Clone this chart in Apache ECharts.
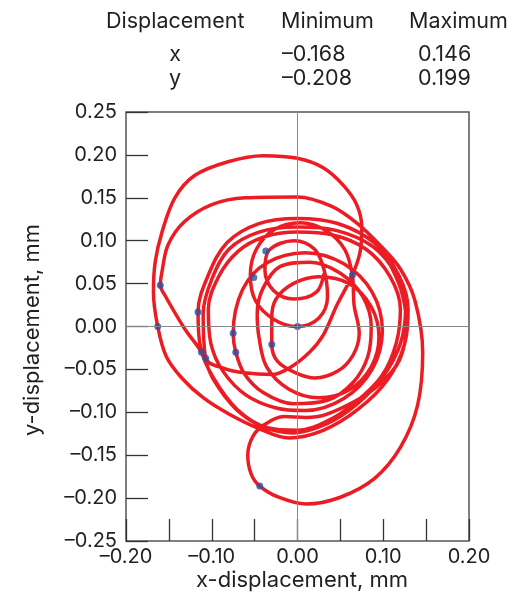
<!DOCTYPE html>
<html><head><meta charset="utf-8">
<script src="https://cdn.jsdelivr.net/npm/echarts@6/dist/echarts.min.js"></script>
<style>html,body{margin:0;padding:0;background:#fff}#c{width:515px;height:597px}</style>
</head><body><div id="c"></div>
<script>
// ---- data (mm) ----
const outerLoop = [[0.105,0.078],[0.121,0.042],[0.127,0.002],[0.119,-0.039],[0.096,-0.067],[0.069,-0.086],[0.032,-0.103],[0.010,-0.106],[-0.016,-0.105],[-0.038,-0.114],[-0.052,-0.128],[-0.058,-0.150],[-0.054,-0.172],[-0.044,-0.186],[-0.022,-0.199],[0.010,-0.207],[0.050,-0.199],[0.090,-0.177],[0.120,-0.141],[0.140,-0.092],[0.146,-0.030],[0.137,0.030],[0.120,0.067],[0.096,0.095],[0.070,0.120],[0.040,0.140],[0.000,0.151],[-0.061,0.150],[-0.100,0.142],[-0.132,0.122],[-0.151,0.095],[-0.158,0.064],[-0.160,0.048],[-0.155,0.037],[-0.132,-0.002],[-0.112,-0.030]];
const coreLoopB = [[-0.098,-0.062],[-0.072,-0.096],[-0.040,-0.117],[-0.005,-0.124],[0.035,-0.113],[0.070,-0.090],[0.100,-0.058],[0.120,-0.020],[0.126,0.020],[0.115,0.060],[0.088,0.093],[0.045,0.112],[0.000,0.116],[-0.045,0.110],[-0.080,0.090],[-0.100,0.055],[-0.110,0.015],[-0.107,-0.037]];
const bigTopLoop = [[-0.085,-0.049],[-0.062,-0.054],[-0.030,-0.056],[-0.009,-0.048],[0.014,-0.030],[0.030,-0.010],[0.046,0.025],[0.064,0.060],[0.073,0.087],[0.075,0.115],[0.069,0.142],[0.053,0.165],[0.030,0.185],[0.000,0.196],[-0.040,0.199],[-0.081,0.192],[-0.120,0.176],[-0.143,0.150],[-0.158,0.110],[-0.166,0.075],[-0.168,0.040],[-0.163,0.000],[-0.153,-0.035],[-0.135,-0.060],[-0.110,-0.083],[-0.080,-0.102],[-0.045,-0.119],[-0.010,-0.130],[0.030,-0.121],[0.070,-0.097],[0.105,-0.062],[0.125,-0.020],[0.129,0.020],[0.118,0.060],[0.090,0.097],[0.047,0.120],[0.000,0.126]];
const coreLoopA = [[-0.045,0.120],[-0.082,0.098],[-0.104,0.060],[-0.116,0.017],[-0.113,-0.025],[-0.098,-0.060],[-0.070,-0.097],[-0.035,-0.118],[0.000,-0.121],[0.035,-0.110],[0.068,-0.088],[0.098,-0.058],[0.115,-0.020],[0.120,0.020],[0.108,0.058],[0.080,0.090],[0.040,0.107],[0.000,0.110]];
const midLoops = [[-0.040,0.104],[-0.070,0.087],[-0.092,0.058],[-0.104,0.020],[-0.101,-0.020],[-0.087,-0.052],[-0.060,-0.080],[-0.025,-0.095],[0.009,-0.098],[0.054,-0.084],[0.087,-0.050],[0.099,-0.005],[0.087,0.040],[0.054,0.073],[0.009,0.086],[-0.036,0.074],[-0.064,0.043],[-0.075,-0.008],[-0.072,-0.030],[-0.062,-0.055],[-0.040,-0.077],[-0.005,-0.090],[0.035,-0.086],[0.065,-0.065],[0.082,-0.035],[0.086,0.000],[0.076,0.035],[0.050,0.062],[0.015,0.075],[-0.020,0.070],[-0.040,0.045]];
const smallLoops = [[-0.047,0.015],[-0.045,-0.012],[-0.036,-0.047],[-0.010,-0.073],[0.025,-0.083],[0.060,-0.074],[0.086,-0.047],[0.095,-0.012],[0.086,0.023],[0.060,0.050],[0.025,0.058],[-0.005,0.050],[-0.025,0.032],[-0.030,0.010],[-0.030,-0.021],[-0.023,-0.041],[0.000,-0.055],[0.020,-0.060],[0.047,-0.052],[0.065,-0.033],[0.072,-0.008],[0.066,0.025]];
const centreLoops = [[0.064,0.060],[0.055,0.090],[0.033,0.112],[0.003,0.121],[-0.027,0.113],[-0.048,0.090],[-0.055,0.060],[-0.049,0.030],[-0.027,0.008],[0.000,0.000],[0.025,0.010],[0.035,0.035],[0.031,0.066],[0.020,0.090],[-0.004,0.100],[-0.033,0.089],[-0.038,0.066],[-0.028,0.042],[-0.004,0.032],[0.022,0.040],[0.031,0.062]];
const keyphasorDots = [[-0.160,0.048],[-0.163,0.000],[-0.116,0.017],[-0.112,-0.030],[-0.107,-0.037],[-0.075,-0.008],[-0.072,-0.030],[-0.030,-0.021],[-0.051,0.057],[-0.037,0.088],[0.000,0.000],[0.064,0.060],[-0.044,-0.186]];

const tableHeader = ['Displacement', 'Minimum', 'Maximum'];
const tableRowX = ['x', '\u20130.168', '0.146'];
const tableRowY = ['y', '\u20130.208', '0.199'];
const xAxisTitle = 'x-displacement, mm';
const yAxisTitle = 'y-displacement, mm';

const path = [].concat(outerLoop, coreLoopB, bigTopLoop, coreLoopA, midLoops, smallLoops, centreLoops);

const FONT = 'Inter, "Liberation Sans", Arial, sans-serif';
const TXT = '#231f20';
function fmt(v) {
  const r = Math.round(v * 100) / 100;
  return (r < 0 ? '\u2013' : '') + Math.abs(r).toFixed(2);
}

const chart = echarts.init(document.getElementById('c'), null, {renderer: 'canvas'});
function txt(text, x, y, align, size, extra) {
  return Object.assign({type: 'text', x: x, y: y, style: {text: text, fill: TXT, font: size + 'px ' + FONT, textAlign: align, textVerticalAlign: 'middle'}}, extra || {});
}
const option = {
  animation: false,
  backgroundColor: '#fff',
  grid: {left: 126, right: 46, top: 112, bottom: 56, show: true, borderColor: '#555', borderWidth: 1.5},
  xAxis: {
    type: 'value', min: -0.2, max: 0.2, interval: 0.05,
    axisLine: {show: false, onZero: false},
    axisTick: {show: true, inside: true, length: 22, lineStyle: {color: '#333', width: 1.3}},
    splitLine: {show: false},
    axisLabel: {
      formatter: v => (Math.abs(Math.round(v * 100)) % 10 === 0 ? fmt(v) : ''),
      fontFamily: FONT, fontSize: 20, color: TXT, margin: 6, showMinLabel: true, showMaxLabel: true
    }
  },
  yAxis: {
    type: 'value', min: -0.25, max: 0.25, interval: 0.05,
    axisLine: {show: false, onZero: false},
    axisTick: {show: true, inside: true, length: 22, lineStyle: {color: '#333', width: 1.3}},
    splitLine: {show: false},
    axisLabel: {formatter: v => fmt(v), fontFamily: FONT, fontSize: 20, color: TXT, margin: 9, showMinLabel: true, showMaxLabel: true}
  },
  series: [
    {
      type: 'line', data: [], z: 1, silent: true,
      markLine: {silent: true, symbol: ['none', 'none'], label: {show: false},
        lineStyle: {color: '#888', width: 1, type: 'solid'},
        data: [{xAxis: 0}, {yAxis: 0}]}
    },
    {
      type: 'line', data: path, z: 2, showSymbol: false, smooth: 0.35, silent: true,
      lineStyle: {color: '#ec1c24', width: 3.5}
    },
    {
      type: 'scatter', data: keyphasorDots, z: 3, symbol: 'circle', symbolSize: 7, silent: true,
      itemStyle: {color: '#2f4fa0'}
    }
  ],
  graphic: [
    txt(tableHeader[0], 106, 22, 'left', 21.5),
    txt(tableHeader[1], 281, 22, 'left', 21.5),
    txt(tableHeader[2], 409, 22, 'left', 21.5),
    txt(tableRowX[0], 175, 55, 'center', 21.5),
    txt(tableRowX[1], 282, 55, 'left', 21.5),
    txt(tableRowX[2], 418, 55, 'left', 21.5),
    txt(tableRowY[0], 175, 79, 'center', 21.5),
    txt(tableRowY[1], 282, 79, 'left', 21.5),
    txt(tableRowY[2], 418, 79, 'left', 21.5),
    txt(xAxisTitle, 302, 580, 'center', 22),
    txt(yAxisTitle, 32, 330, 'center', 22, {rotation: Math.PI / 2})
  ]
};
chart.setOption(option);
</script></body></html>
